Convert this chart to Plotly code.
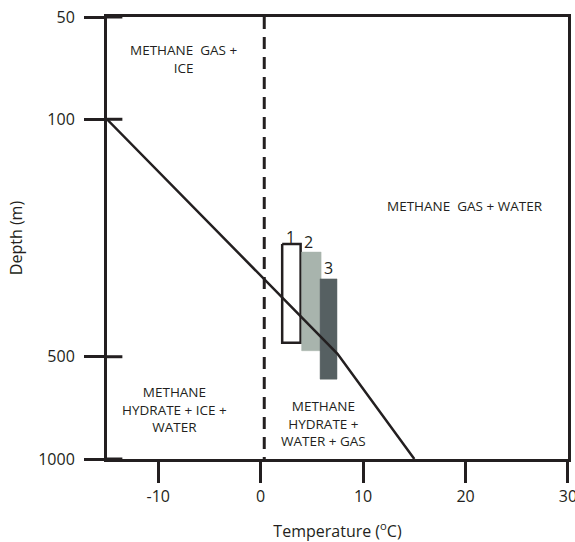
import numpy as np
import plotly.graph_objects as go

# ---- data ----
x_ticks = [-10, 0, 10, 20, 30]
y_ticks = [50, 100, 500, 1000]

# phase boundary (temperature degC, depth m)
boundary_t = [-15, 7.5, 15]
boundary_d = [100, 490, 1000]

# freezing line
freeze_t = [0.35, 0.35]
freeze_d = [50, 1000]

# measured temperature ranges (boxes): t_min, t_max, d_top, d_bottom
box_labels = ["1", "2", "3"]
box_tmin = [2.1, 4.0, 5.8]
box_tmax = [3.9, 5.9, 7.45]
box_dtop = [233, 246, 295]
box_dbot = [455, 480, 582]
box_fill = ["#ffffff", "#a8b4ad", "#566062"]
box_line = ["#231f20", "#a8b4ad", "#566062"]

INK = "#231f20"
FONT = "Open Sans"

fig = go.Figure()

for i in range(3):
    xs = [box_tmin[i], box_tmax[i], box_tmax[i], box_tmin[i], box_tmin[i]]
    ys = [box_dtop[i], box_dtop[i], box_dbot[i], box_dbot[i], box_dtop[i]]
    fig.add_trace(go.Scatter(x=xs, y=ys, mode="lines", fill="toself",
                             fillcolor=box_fill[i],
                             line=dict(color=box_line[i], width=2.5 if i == 0 else 0.5),
                             hoverinfo="skip", showlegend=False))

fig.add_trace(go.Scatter(x=freeze_t, y=freeze_d, mode="lines",
                         line=dict(color=INK, width=3, dash="12px,8px"),
                         hoverinfo="skip", showlegend=False))

fig.add_trace(go.Scatter(x=boundary_t, y=boundary_d, mode="lines",
                         line=dict(color=INK, width=2.5),
                         hoverinfo="skip", showlegend=False))

# inside part of the y ticks, and the top frame line running to the edge
tx, ty = [], []
for d in y_ticks:
    tx += [-15, -13.5, None]
    ty += [d, d, None]
tx += [30, 30.8]
ty += [50, 50]
fig.add_trace(go.Scatter(x=tx, y=ty, mode="lines", line=dict(color=INK, width=3),
                         hoverinfo="skip", showlegend=False, cliponaxis=False))

# box numbers
num_t = [2.94, 4.71, 6.67]
num_d = [222, 230, 274]
for lab, t, d in zip(box_labels, num_t, num_d):
    fig.add_annotation(x=t, y=np.log10(d), text=lab, showarrow=False,
                       font=dict(family=FONT, size=16, color=INK))

# region labels
region_text = ["METHANE  GAS +<br>ICE",
               "METHANE  GAS + WATER",
               "METHANE<br>HYDRATE + ICE +<br>WATER",
               "METHANE<br>HYDRATE +<br>WATER + GAS"]
region_t = [-7.45, 19.95, -8.43, 6.18]
region_d = [66.5, 179.7, 715, 786]
for txt, t, d in zip(region_text, region_t, region_d):
    fig.add_annotation(x=t, y=np.log10(d), text=txt, showarrow=False,
                       font=dict(family=FONT, size=13.5, color=INK))

fig.update_layout(
    width=575, height=542,
    margin=dict(l=107, r=7, t=17, b=83, autoexpand=False),
    paper_bgcolor="white", plot_bgcolor="white",
    font=dict(family=FONT, color=INK),
)
fig.update_xaxes(range=[-15, 30.001], tickvals=x_ticks, ticktext=[str(v) for v in x_ticks],
                 automargin=False, ticklabeloverflow="allow",
                 showgrid=False, zeroline=False, showline=True, mirror=True,
                 linecolor=INK, linewidth=3, ticks="outside", ticklen=21,
                 tickwidth=3, tickcolor=INK, tickfont=dict(size=16, color=INK),
                 title=dict(text="Temperature (<sup>o</sup>C)", font=dict(size=16, color=INK),
                            standoff=22))
fig.update_yaxes(type="log", range=[np.log10(1000), np.log10(50)], tickvals=y_ticks,
                 ticktext=[str(v) for v in y_ticks], automargin=False,
                 showgrid=False, zeroline=False, showline=True, mirror=True,
                 linecolor=INK, linewidth=3, ticks="outside", ticklen=20,
                 tickwidth=3, tickcolor=INK, tickfont=dict(size=16, color=INK),
                 ticklabelstandoff=6,
                 title=dict(text="Depth (m)", font=dict(size=16, color=INK), standoff=12))

fig.write_html("out.html")
